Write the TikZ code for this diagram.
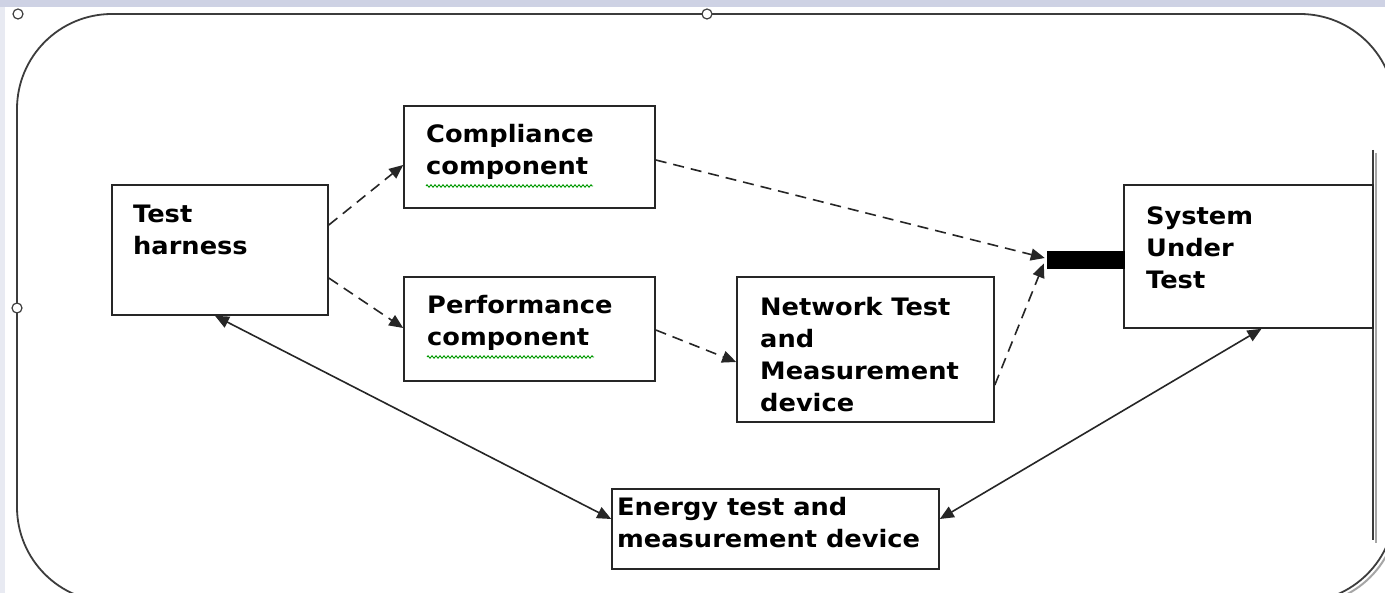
\documentclass[tikz,border=0pt]{standalone}
\usepackage{fontspec}
\setmainfont{DejaVu Sans}[FakeStretch=1.07]
\usetikzlibrary{arrows.meta,decorations.pathmorphing}
\definecolor{topbar}{RGB}{206,210,228}
\definecolor{leftbar}{RGB}{232,234,242}
\definecolor{edge}{RGB}{60,60,60}
\begin{document}
\begin{tikzpicture}[x=1pt,y=-1pt,
  box/.style={draw=black!85, line width=1.6pt, fill=white, inner sep=0pt},
  lbl/.style={anchor=north west, inner sep=0pt, align=left, font=\fontsize{24}{32}\selectfont\bfseries},
  dasharrow/.style={draw=black!85, line width=1.6pt, dash pattern=on 11pt off 7pt, -{Triangle[length=14pt,width=12pt]}},
  botharrow/.style={draw=black!85, line width=1.6pt, {Triangle[length=14pt,width=12pt]}-{Triangle[length=14pt,width=12pt]}},
  handle/.style={circle, draw=black!75, line width=1.2pt, fill=white, minimum size=10pt, inner sep=0pt},
  squiggle/.style={draw=green!60!black, line width=0.9pt, decorate, decoration={zigzag, amplitude=1.2pt, segment length=4pt}},
  outline/.style={draw=edge, line width=1.8pt},
  shadowline/.style={draw=black!35, line width=2pt}]
\useasboundingbox (0,0) rectangle (1385,593);
\clip (0,0) rectangle (1385,593);
% background
\fill[topbar] (0,0) rectangle (1385,593);
\fill[leftbar] (0,7) rectangle (5,593);
\fill[white] (5,7) rectangle (1385,593);
% outer rounded frame with shadow at bottom right
\begin{scope}
  \clip (1250,450) rectangle (1385,593);
  \draw[shadowline, rounded corners=95pt] (20,17) rectangle (1398,605);
\end{scope}
\draw[outline, rounded corners=95pt] (17,14) rectangle (1395,602);
\draw[shadowline] (1376,153) -- (1376,543);
\draw[outline] (1373,150) -- (1373,540);
% boxes
\node[box, minimum width=216pt, minimum height=130pt] (th) at (220,250) {};
\node[box, minimum width=251pt, minimum height=102pt] (cp) at (529.5,157) {};
\node[box, minimum width=251pt, minimum height=104pt] (pf) at (529.5,329) {};
\node[box, minimum width=257pt, minimum height=145pt] (nw) at (865.5,349.5) {};
\node[box, minimum width=249pt, minimum height=143pt] (sut) at (1248.5,256.5) {};
\node[box, minimum width=327pt, minimum height=80pt] (en) at (775.5,529) {};
\node[fill=black, draw=black, inner sep=0pt, minimum width=77pt, minimum height=17pt] (bar) at (1085.5,259.5) {};
% labels
\node[lbl] (tht) at (133,198) {\rule{0pt}{24pt}Test\\harness};
\node[lbl] (cpt) at (426,118) {\rule{0pt}{24pt}Compliance\\component};
\node[lbl] (pft) at (427,289) {\rule{0pt}{24pt}Performance\\component};
\node[lbl] (nwt) at (760,291) {\rule{0pt}{24pt}Network Test\\and\\Measurement\\device};
\node[lbl] (sutt) at (1146,200) {\rule{0pt}{24pt}System\\Under\\Test};
\node[lbl] (ent) at (617,491) {\rule{0pt}{24pt}Energy test and\\measurement device};
% spell-check underlines
\draw[squiggle] (426,186) -- (593,186);
\draw[squiggle] (427,357) -- (594,357);
% connectors
\draw[dasharrow] ([yshift=25pt]th.east) -- ([yshift=-8pt]cp.west);
\draw[dasharrow] ([yshift=-28pt]th.east) -- ([yshift=1pt]pf.west);
\draw[dasharrow] ([yshift=-3pt]cp.east) -- ([xshift=-2pt,yshift=1.5pt]bar.west);
\draw[dasharrow] ([yshift=-1pt]pf.east) -- ([yshift=-12.5pt]nw.west);
\draw[dasharrow] ([yshift=-35.5pt]nw.east) -- ([xshift=-3pt,yshift=-4pt]bar.west);
\draw[botharrow] ([xshift=-5pt]th.south) -- ([yshift=10pt]en.west);
\draw[botharrow] ([xshift=13pt]sut.south) -- ([yshift=10pt]en.east);
% selection handles
\node[handle] (h1) at (18,14) {};
\node[handle] (h2) at (707,14) {};
\node[handle] (h3) at (17,308) {};
\end{tikzpicture}
\end{document}
